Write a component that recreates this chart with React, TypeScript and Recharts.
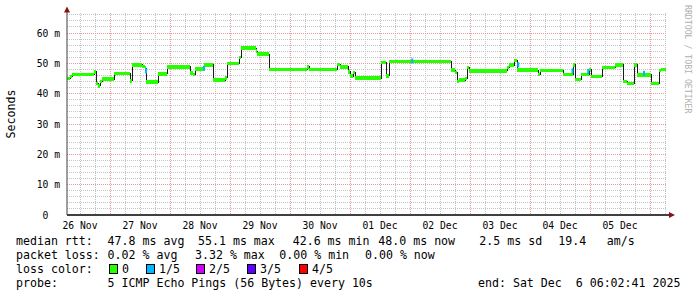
import React from "react";
import { CartesianGrid, Line, LineChart, XAxis, YAxis } from "recharts";

// median rtt steps: start hour (after 26 Nov 00:00) and value in ms
const stepStart = [
  6.8, 8.0, 8.8, 17.6, 18.4, 19.2, 20.0, 20.8, 25.6, 32.0, 32.8, 36.8, 38.0,
  38.4, 43.2, 46.8, 56.0, 57.2, 58.0, 61.6, 65.2, 70.0, 70.8, 75.6, 76.4, 82.4,
  82.8, 87.6, 102.8, 103.6, 114.8, 116.0, 119.2, 120.0, 121.2, 122.0, 132.4,
  134.4, 135.6, 160.4, 162.0, 162.8, 163.6, 166.0, 166.8, 167.6, 182.8, 183.6,
  185.6, 186.8, 195.2, 196.0, 205.2, 209.2, 210.0, 212.4, 215.6, 216.4, 220.8,
  226.0, 229.2, 230.8, 233.6, 234.8, 240.4, 243.6, 244.4,
];
const stepRtt = [
  45.0, 45.6, 46.3, 47.2, 43.4, 42.6, 44.0, 44.8, 46.6, 44.2, 49.5, 49.0, 48.4,
  43.8, 46.5, 48.8, 46.8, 46.3, 48.1, 49.5, 44.5, 45.2, 50.0, 51.9, 55.0, 54.0,
  53.0, 48.0, 48.8, 48.0, 49.7, 48.8, 47.2, 45.8, 47.0, 45.1, 50.3, 45.9, 50.6,
  47.8, 47.0, 44.0, 44.5, 45.0, 48.6, 47.5, 48.7, 49.4, 50.9, 47.8, 46.4, 47.7,
  46.4, 49.5, 44.7, 46.4, 48.0, 45.6, 48.7, 49.5, 44.0, 43.4, 49.5, 46.2, 43.4,
  47.6, 48.0,
];
const lastHour = 246.4;

// samples where 1 of 5 pings was lost
const loss1Hour = [38.4, 61.6, 144.9, 187.3, 209.0, 215.3, 237.6];
const loss1Rtt = [47.5, 48.4, 50.8, 49.5, 47.5, 47.3, 46.7];

const dayLabels = [
  "26 Nov", "27 Nov", "28 Nov", "29 Nov", "30 Nov",
  "01 Dec", "02 Dec", "03 Dec", "04 Dec", "05 Dec",
];
const yTicks = [0, 10, 20, 30, 40, 50, 60];

const lossLabels = ["0", "1/5", "2/5", "3/5", "4/5"];
const lossColors = ["#26ff00", "#00b8ff", "#d400ff", "#5e00ff", "#ff0000"];

const MONO = "'DejaVu Sans Mono', monospace";
const xDomain = [6.8, 246.8];
const yDomain = [0, 66.6];

const medianData = stepStart
  .map((t, i) => ({ t, v: stepRtt[i] }))
  .concat({ t: lastHour, v: stepRtt[stepRtt.length - 1] });

// green only on the flat parts, the black line does the jumps
const greenData = stepStart.flatMap((t, i) => {
  const end = i + 1 < stepStart.length ? stepStart[i + 1] : lastHour;
  return [
    { t, v: stepRtt[i] as number | null },
    { t: end, v: stepRtt[i] as number | null },
    { t: end, v: null },
  ];
});

const blueData = loss1Hour.map((t, i) => ({ t, v: loss1Rtt[i] }));

const noonTicks = dayLabels.map((_, i) => 12 + i * 24);
const minorV: number[] = [];
for (let h = 12; h <= 246; h += 6) minorV.push(h);
const majorV = minorV.filter((h) => h % 24 === 0);
const minorH: number[] = [];
for (let v = 2; v <= 66; v += 2) minorH.push(v);
const majorH = yTicks.filter((v) => v > 0);

const XTick = (props: any) => {
  const { x, y, payload } = props;
  const idx = noonTicks.indexOf(payload.value);
  return (
    <text x={x} y={y + 13.5} textAnchor="middle" fontFamily={MONO} fontSize={9.7} fill="#000">
      {dayLabels[idx]}
    </text>
  );
};

const YTick = (props: any) => {
  const { x, y, payload } = props;
  const v = payload.value;
  return (
    <text
      x={v === 0 ? x - 18.7 : x - 7}
      y={y}
      dy={3.5}
      textAnchor="end"
      fontFamily={MONO}
      fontSize={9.7}
      fill="#000"
    >
      {v === 0 ? "0" : `${v} m`}
    </text>
  );
};

const BlueDot = (props: any) => {
  const { cx, cy, index } = props;
  if (cx == null || cy == null) return <g key={`b-${index}`} />;
  return <rect key={`b-${index}`} x={cx - 1} y={cy - 2.5} width={2} height={5} fill={lossColors[1]} />;
};

export default function App() {
  const stats = [
    [16, "median rtt:"], [107.6, "47.8 ms avg"], [198, "55.1 ms max"], [292.7, "42.6 ms min"],
    [378.3, "48.0 ms now"], [479.3, "2.5 ms sd"], [558.3, "19.4"], [606.7, "am/s"],
  ] as [number, string][];
  const loss = [
    [16, "packet loss:"], [107.6, "0.02 % avg"], [195, "3.32 % max"], [279.3, "0.00 % min"],
    [365, "0.00 % now"],
  ] as [number, string][];
  const boxX = [109, 146, 196, 247, 299];

  return (
    <div style={{ position: "absolute", left: 0, top: 0, width: 697, height: 297, background: "#fff" }}>
      <LineChart width={697} height={297} margin={{ top: 13, right: 30, bottom: 0, left: 0 }}>
        <CartesianGrid
          horizontalValues={minorH}
          verticalValues={minorV}
          stroke="#c4c4c4"
          strokeDasharray="1 1"
          shapeRendering="crispEdges"
        />
        <CartesianGrid
          horizontalValues={majorH}
          verticalValues={majorV}
          stroke="#e69a9a"
          strokeDasharray="1 1"
          shapeRendering="crispEdges"
        />
        <XAxis
          type="number"
          dataKey="t"
          domain={xDomain}
          allowDataOverflow
          ticks={noonTicks}
          tick={<XTick />}
          tickLine={false}
          tickSize={0}
          tickMargin={0}
          height={82}
          axisLine={{ stroke: "#000", strokeWidth: 1.5 }}
          interval={0}
        />
        <YAxis
          type="number"
          domain={yDomain}
          allowDataOverflow
          ticks={yTicks}
          tick={<YTick />}
          tickLine={false}
          tickSize={0}
          tickMargin={0}
          width={67}
          axisLine={{ stroke: "#404040", strokeWidth: 1 }}
          interval={0}
        />
        <Line
          data={medianData}
          dataKey="v"
          type="stepAfter"
          stroke="#1a1a1a"
          strokeWidth={1}
          dot={false}
          shapeRendering="crispEdges"
          isAnimationActive={false}
        />
        <Line
          data={greenData}
          dataKey="v"
          type="linear"
          stroke={lossColors[0]}
          strokeWidth={3.5}
          dot={false}
          connectNulls={false}
          shapeRendering="crispEdges"
          isAnimationActive={false}
        />
        <Line
          data={blueData}
          dataKey="v"
          stroke="none"
          strokeWidth={0}
          dot={<BlueDot />}
          activeDot={false}
          isAnimationActive={false}
        />
      </LineChart>

      <svg width={697} height={297} style={{ position: "absolute", left: 0, top: 0, pointerEvents: "none" }}>
        {/* axis arrows */}
        <line x1={667} y1={215} x2={670} y2={215} stroke="#000" strokeWidth={1.5} />
        <line x1={67} y1={13} x2={67} y2={10} stroke="#404040" strokeWidth={1} />
        <polygon points="669,212 675,215 669,218" fill="#8b1010" />
        <polygon points="64,12.5 67,6.5 70,12.5" fill="#8b1010" />

        <text
          x={15}
          y={114}
          transform="rotate(-90 15 114)"
          textAnchor="middle"
          fontFamily={MONO}
          fontSize={11.6}
          fill="#000"
        >
          Seconds
        </text>
        <text
          x={685}
          y={5}
          transform="rotate(90 685 5)"
          fontFamily={MONO}
          fontSize={8.2}
          fill="#b0b0b0"
        >
          RRDTOOL / TOBI OETIKER
        </text>

        <g fontFamily={MONO} fontSize={11.6} fill="#000">
          {stats.map(([x, s], i) => (
            <text key={`s${i}`} x={x} y={245}>{s}</text>
          ))}
          {loss.map(([x, s], i) => (
            <text key={`l${i}`} x={x} y={259}>{s}</text>
          ))}
          <text x={16} y={273}>loss color:</text>
          {lossLabels.map((lab, i) => (
            <g key={`c${i}`}>
              <rect x={boxX[i] + 0.5} y={264.5} width={8} height={9} fill={lossColors[i]} stroke="#000" strokeWidth={1} />
              <text x={boxX[i] + 13} y={273}>{lab}</text>
            </g>
          ))}
          <text x={16} y={287}>probe:</text>
          <text x={107.6} y={287} style={{ whiteSpace: "pre" }}>5 ICMP Echo Pings (56 Bytes) every 10s</text>
          <text x={478} y={287} style={{ whiteSpace: "pre" }}>end: Sat Dec  6 06:02:41 2025</text>
        </g>
      </svg>
    </div>
  );
}
